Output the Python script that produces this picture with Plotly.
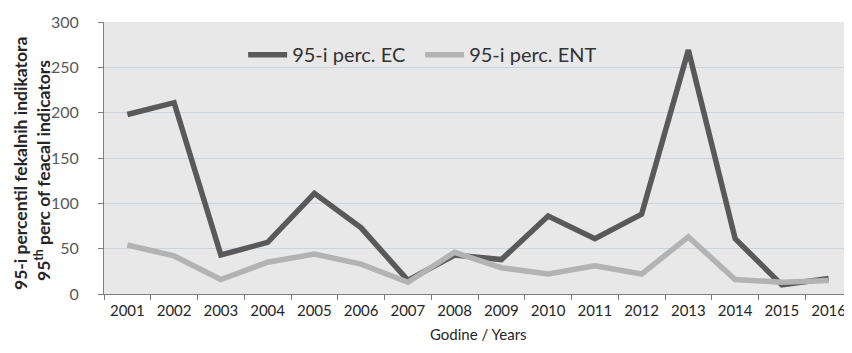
import plotly.graph_objs as go

years = [str(y) for y in range(2001, 2017)]
ec = [198, 211, 43, 57, 111, 73, 15, 43, 38, 86, 61, 88, 269, 61, 10, 17]
ent = [54, 42, 16, 35, 44, 33, 13, 46, 29, 22, 31, 22, 63, 16, 13, 15]

ytitle_1 = "<b>95-i percentil fekalnih indikatora</b>"
ytitle_2 = "<b>95<sup>th</sup> perc of feacal indicators</b>"
xtitle = "Godine / Years"

font_main = "Lato, Open Sans, sans-serif"

fig = go.Figure()

fig.add_trace(go.Scatter(
    x=years, y=ec,
    mode="lines",
    name="95-i perc. EC",
    line=dict(color="#595959", width=5.5)
))

fig.add_trace(go.Scatter(
    x=years, y=ent,
    mode="lines",
    name="95-i perc. ENT",
    line=dict(color="#b3b3b3", width=5.5)
))

# page body has an 8px margin, so the figure is a bit smaller than the window
fig.update_layout(
    autosize=False,
    width=844,
    height=345,
    paper_bgcolor="white",
    plot_bgcolor="#e8e8e8",
    margin=dict(l=96, r=0, t=14, b=59),
    font=dict(family=font_main, size=16, color="#404040"),
    showlegend=True,
    legend=dict(
        orientation="h",
        x=0.186, y=0.88,
        xanchor="left", yanchor="middle",
        bgcolor="rgba(0,0,0,0)",
        font=dict(family=font_main, size=20, color="#333333"),
        itemwidth=39,
        entrywidth=123,
    ),
    xaxis=dict(
        type="category",
        range=[-0.5, 15.5],
        automargin=False,
        showgrid=False,
        showline=True,
        linecolor="#808080",
        ticks="outside",
        tickson="boundaries",
        ticklen=5,
        tickcolor="#808080",
        ticklabelstandoff=3,
        tickfont=dict(size=15, color="#262626"),
    ),
    yaxis=dict(
        range=[0, 300],
        dtick=50,
        automargin=False,
        showgrid=True,
        gridcolor="#cbd3dd",
        zeroline=False,
        showline=True,
        linecolor="#808080",
        ticks="outside",
        ticklen=5,
        tickcolor="#808080",
        ticklabelstandoff=16,
        tickfont=dict(size=16, color="#595959"),
    ),
    annotations=[
        dict(text=ytitle_1, textangle=-90, xref="paper", yref="paper",
             x=0, y=0.5, xanchor="center", yanchor="middle",
             xshift=-84, yshift=-6, showarrow=False,
             font=dict(family=font_main, size=17.5, color="#262626")),
        dict(text=ytitle_2, textangle=-90, xref="paper", yref="paper",
             x=0, y=0.5, xanchor="center", yanchor="middle",
             xshift=-62, yshift=-13, showarrow=False,
             font=dict(family=font_main, size=17.5, color="#262626")),
        dict(text=xtitle, xref="paper", yref="paper",
             x=0.5, y=0, xanchor="center", yanchor="middle",
             yshift=-40, showarrow=False,
             font=dict(family=font_main, size=15, color="#262626")),
    ],
)

fig.write_html("out.html")
